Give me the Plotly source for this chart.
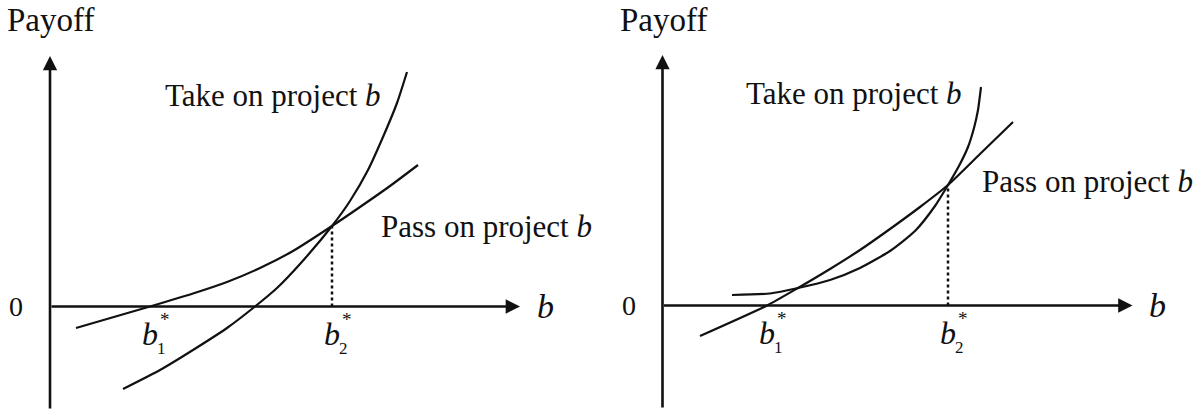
import plotly.graph_objects as go

# ---------------- data (abstract units: b on x, payoff on y) ----------------
# Left panel
take_left_b = [1.46, 2.20, 2.86, 3.54, 4.10, 4.54, 5.00, 5.64, 6.00, 6.36, 6.66, 6.94, 7.14]
take_left_payoff = [-1.65, -1.27, -0.87, -0.43, 0.00, 0.37, 0.85, 1.61, 2.11, 2.73, 3.39, 4.07, 4.69]
pass_left_b = [0.52, 2.00, 2.86, 3.54, 4.20, 4.86, 5.64, 6.20, 6.80, 7.36]
pass_left_payoff = [-0.43, 0.00, 0.26, 0.49, 0.77, 1.11, 1.61, 1.99, 2.41, 2.83]
b1_left, b2_left, cross_left_payoff = 2.00, 5.64, 1.61

# Right panel
take_right_b = [1.39, 2.15, 2.71, 3.35, 3.95, 4.55, 5.05, 5.45, 5.71, 5.95, 6.11, 6.23, 6.31, 6.37]
take_right_payoff = [0.21, 0.24, 0.35, 0.51, 0.75, 1.09, 1.49, 1.99, 2.41, 2.83, 3.17, 3.55, 3.91, 4.37]
pass_right_b = [0.75, 2.09, 2.71, 3.35, 3.95, 4.55, 5.15, 5.71, 6.35, 7.01]
pass_right_payoff = [-0.61, 0.00, 0.35, 0.73, 1.11, 1.53, 1.97, 2.41, 3.03, 3.67]
b1_right, b2_right, cross_right_payoff = 2.09, 5.71, 2.41

# Axis extents
x_axis_end = 9.4
y_axis_top = 5.01
y_axis_bottom = -2.07

# Texts
take_label = "Take on project <i>b</i>"
pass_label = "Pass on project <i>b</i>"
y_title = "Payoff"
x_title = "<i>b</i>"
zero_label = "0"

FONT = "Liberation Serif"
BLACK = "#111111"

fig = go.Figure()

panels = [
    dict(xa="x", ya="y", take=(take_left_b, take_left_payoff), pas=(pass_left_b, pass_left_payoff),
         b1=b1_left, b2=b2_left, cross=cross_left_payoff,
         take_pos=(2.26, 4.23), pass_pos=(6.58, 1.61), payoff_x=-0.90),
    dict(xa="x2", ya="y2", take=(take_right_b, take_right_payoff), pas=(pass_right_b, pass_right_payoff),
         b1=b1_right, b2=b2_right, cross=cross_right_payoff,
         take_pos=(1.62, 4.25), pass_pos=(6.34, 2.49), payoff_x=-0.89),
]

annotations = []
shapes = []
for p in panels:
    xa, ya = p["xa"], p["ya"]
    for xs, ys in (p["take"], p["pas"]):
        fig.add_trace(go.Scatter(x=xs, y=ys, mode="lines", xaxis=xa, yaxis=ya,
                                 line=dict(color=BLACK, width=2.2, shape="spline", smoothing=0.6),
                                 hoverinfo="skip", showlegend=False))
    # dotted drop line
    shapes.append(dict(type="line", xref=xa, yref=ya, x0=p["b2"], x1=p["b2"], y0=0, y1=p["cross"],
                       line=dict(color=BLACK, width=2.5, dash="dot")))
    # axes with arrows
    annotations.append(dict(xref=xa, yref=ya, axref=xa, ayref=ya, x=0, y=y_axis_top, ax=0, ay=y_axis_bottom,
                            showarrow=True, arrowhead=2, arrowsize=1.1, arrowwidth=2.6, arrowcolor=BLACK,
                            text="", standoff=0, startstandoff=0))
    annotations.append(dict(xref=xa, yref=ya, axref=xa, ayref=ya, x=x_axis_end, y=0, ax=0, ay=0,
                            showarrow=True, arrowhead=2, arrowsize=1.1, arrowwidth=2.6, arrowcolor=BLACK,
                            text="", standoff=0, startstandoff=0))
    # texts
    annotations.append(dict(xref=xa, yref="paper", x=p["payoff_x"], y=1.0, text=y_title, showarrow=False,
                            xanchor="left", yanchor="top", font=dict(family=FONT, size=33, color=BLACK)))
    annotations.append(dict(xref=xa, yref=ya, x=-0.68, y=0.0, text=zero_label, showarrow=False,
                            xanchor="center", yanchor="middle", font=dict(family=FONT, size=28, color=BLACK)))
    annotations.append(dict(xref=xa, yref=ya, x=9.9, y=0.0, text=x_title, showarrow=False,
                            xanchor="center", yanchor="middle", font=dict(family=FONT, size=34, color=BLACK)))
    annotations.append(dict(xref=xa, yref=ya, x=p["take_pos"][0], y=p["take_pos"][1], text=take_label,
                            showarrow=False, xanchor="left", yanchor="middle",
                            font=dict(family=FONT, size=31, color=BLACK)))
    annotations.append(dict(xref=xa, yref=ya, x=p["pass_pos"][0], y=p["pass_pos"][1], text=pass_label,
                            showarrow=False, xanchor="left", yanchor="middle",
                            font=dict(family=FONT, size=31, color=BLACK)))
    for bx, sub in ((p["b1"], "1"), (p["b2"], "2")):
        annotations.append(dict(xref=xa, yref=ya, x=bx + 0.0, y=-0.55, text="<i>b</i>", showarrow=False,
                                xanchor="center", yanchor="middle", font=dict(family=FONT, size=32, color=BLACK)))
        annotations.append(dict(xref=xa, yref=ya, x=bx + 0.23, y=-0.84, text=sub, showarrow=False,
                                xanchor="center", yanchor="middle", font=dict(family=FONT, size=17, color=BLACK)))
        annotations.append(dict(xref=xa, yref=ya, x=bx + 0.30, y=-0.26, text="*", showarrow=False,
                                xanchor="center", yanchor="middle", font=dict(family=FONT, size=19, color=BLACK)))

W, H = 1201, 415
split = 600 / W
hidden = dict(visible=False, showgrid=False, zeroline=False, fixedrange=True)
fig.update_layout(
    width=W, height=H,
    margin=dict(l=0, r=0, t=0, b=0),
    paper_bgcolor="white", plot_bgcolor="white",
    xaxis=dict(domain=[0, split], range=[-1.0, 11.0], **hidden),
    yaxis=dict(domain=[0, 1], range=[-2.17, 6.13], **hidden),
    xaxis2=dict(domain=[split, 1], range=[-1.25, 10.77], **hidden),
    yaxis2=dict(domain=[0, 1], range=[-2.19, 6.11], anchor="x2", **hidden),
    annotations=annotations,
    shapes=shapes,
    showlegend=False,
)

# remove the browser's default 8 px page margin so the figure fills the window exactly
fig.write_html("out.html", config={"displayModeBar": False},
               post_script="document.body.style.margin='0';")
